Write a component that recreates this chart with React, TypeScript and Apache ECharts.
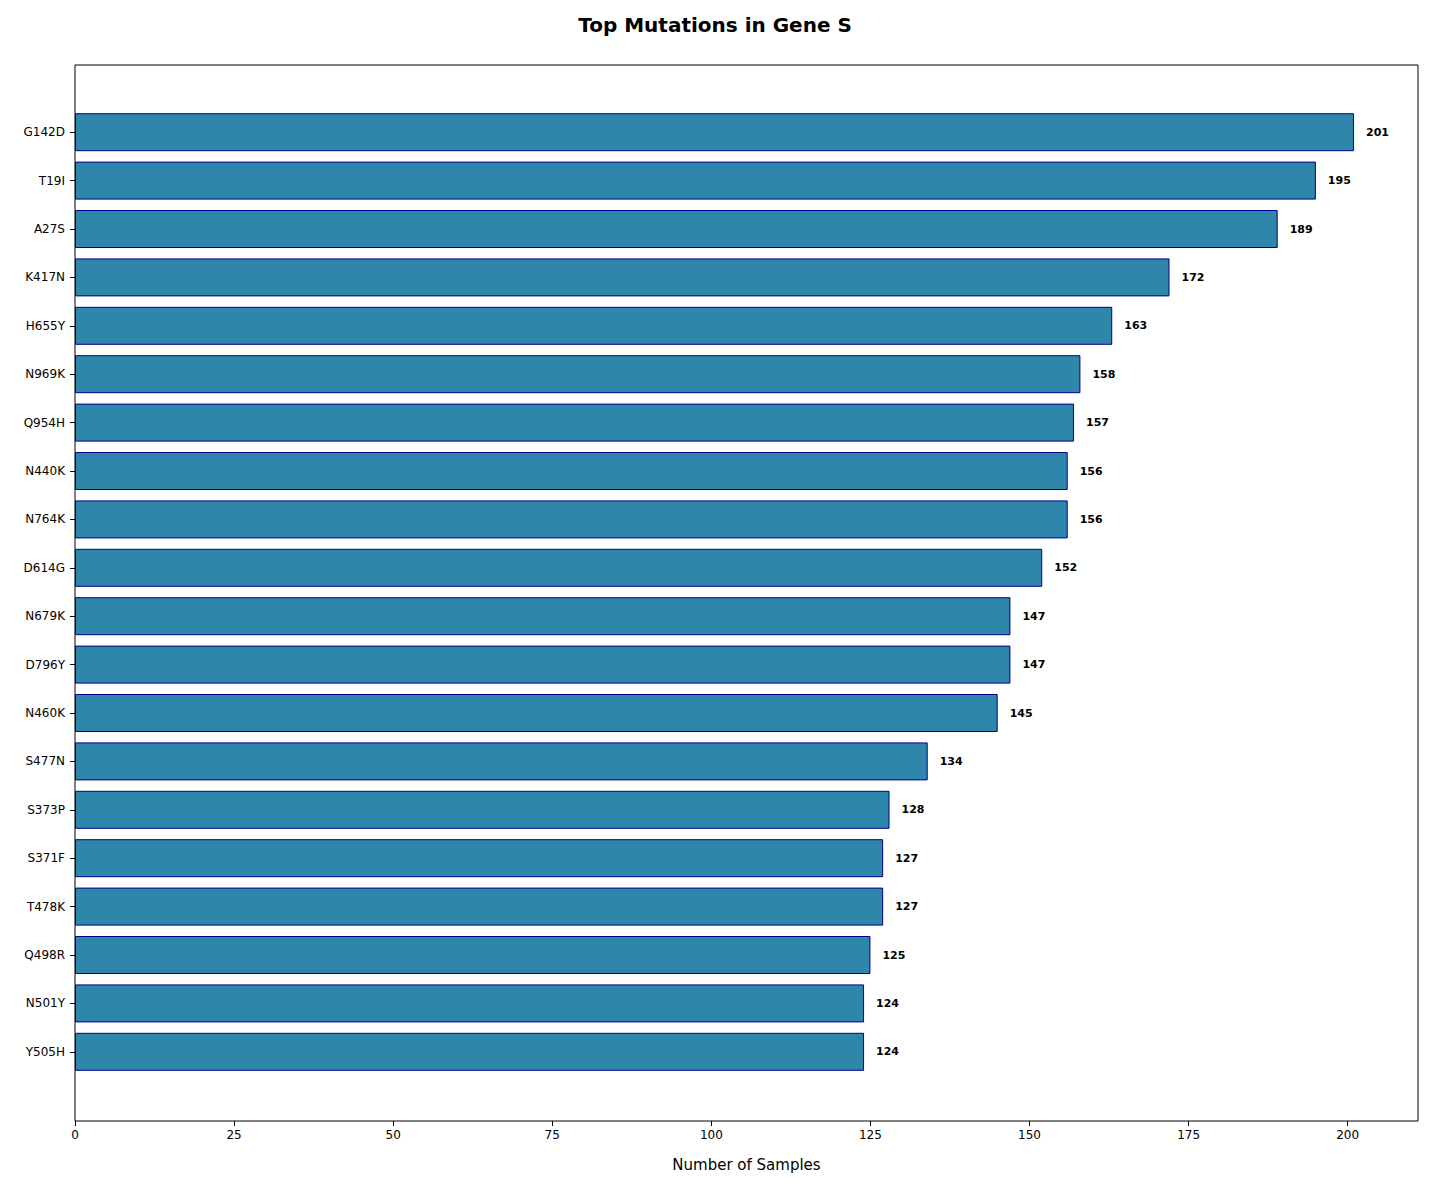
import React, { useEffect, useRef } from 'react';
import * as echarts from 'echarts';

const mutations = ['G142D', 'T19I', 'A27S', 'K417N', 'H655Y', 'N969K', 'Q954H', 'N440K', 'N764K', 'D614G',
  'N679K', 'D796Y', 'N460K', 'S477N', 'S373P', 'S371F', 'T478K', 'Q498R', 'N501Y', 'Y505H'];
const sampleCounts = [201, 195, 189, 172, 163, 158, 157, 156, 156, 152, 147, 147, 145, 134, 128, 127, 127, 125, 124, 124];
const xTicks = [0, 25, 50, 75, 100, 125, 150, 175, 200];

const App = () => {
  const chartRef = useRef(null);

  useEffect(() => {
    const myChart = echarts.init(chartRef.current, null, { renderer: 'svg' });
    const xMax = 211.05;
    const font = 'DejaVu Sans';
    const option = {
      animation: false,
      textStyle: { fontFamily: font },
      title: {
        text: 'Top Mutations in Gene S',
        left: 'center',
        top: 2,
        textStyle: { fontSize: 20, fontWeight: 'bold', color: '#000', fontFamily: font },
      },
      grid: [
        { left: 67, right: 4, top: 100, bottom: 102 },
        { left: 67, right: 4, top: 57, bottom: 57, show: true, borderColor: '#000', borderWidth: 1, backgroundColor: 'transparent' },
      ],
      xAxis: [
        { gridIndex: 0, type: 'value', min: 0, max: xMax, show: false },
        {
          gridIndex: 1, type: 'value', min: 0, max: xMax,
          name: 'Number of Samples', nameLocation: 'middle', nameGap: 36,
          nameTextStyle: { fontSize: 15, color: '#000', fontFamily: font },
          axisLine: { show: false },
          axisTick: { show: true, length: 5, customValues: xTicks, lineStyle: { color: '#000' } },
          splitLine: { show: false },
          axisLabel: { fontSize: 12, color: '#000', fontFamily: font, customValues: xTicks },
        },
      ],
      yAxis: [
        {
          gridIndex: 0, type: 'category', data: mutations, inverse: true,
          axisLine: { show: false },
          axisTick: { show: true, alignWithLabel: true, length: 5, lineStyle: { color: '#000' } },
          axisLabel: { fontSize: 12, color: '#000', fontFamily: font, margin: 10 },
        },
        { gridIndex: 1, type: 'value', show: false },
      ],
      series: [
        {
          type: 'bar',
          xAxisIndex: 0,
          yAxisIndex: 0,
          data: sampleCounts,
          barWidth: 38,
          itemStyle: { color: '#2e86ab', borderColor: '#00008b', borderWidth: 1 },
          label: {
            show: true, position: 'right', distance: 12,
            fontSize: 11, fontWeight: 'bold', color: '#000', fontFamily: font,
          },
        },
      ],
    };
    myChart.setOption(option);
    return () => {
      myChart.dispose();
    };
  }, []);

  return <div ref={chartRef} style={{ width: '1414px', height: '1170px' }} />;
};

export default App;
